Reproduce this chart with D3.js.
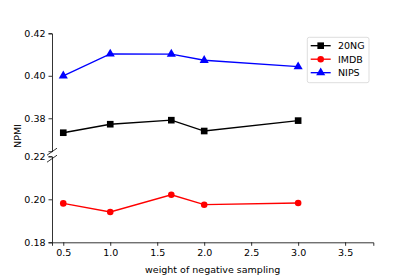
<!DOCTYPE html>
<html>
<head>
<meta charset="utf-8">
<script src="https://cdn.jsdelivr.net/npm/d3@7"></script>
<style>
  body { margin: 0; background: #fff; }
  svg { display: block; font-family: "DejaVu Sans", sans-serif; }
</style>
</head>
<body>
<svg id="chart" width="415" height="277"></svg>
<script>
// chart data
var weights = [0.5, 1.0, 1.65, 2.0, 3.0];
var ng20 = [0.3732, 0.3772, 0.3791, 0.3740, 0.3789];
var imdb = [0.1981, 0.1941, 0.2021, 0.1975, 0.1983];
var nips = [0.4000, 0.4103, 0.4102, 0.4073, 0.4043];
var xTicks = [0.5, 1.0, 1.5, 2.0, 2.5, 3.0, 3.5];
var topTicks = [0.38, 0.40, 0.42];
var bottomTicks = [0.18, 0.20, 0.22];

(function (d3) {
  'use strict';
  var svg = d3.select('#chart');
  var left = 52, right = 373.3;
  var fontSize = 9.5;

  var x = d3.scaleLinear().domain([0.38, 3.8]).range([left, right]);
  var yTop = d3.scaleLinear().domain([0.3645, 0.42]).range([151.2, 33.3]);
  var yBottom = d3.scaleLinear().domain([0.18, 0.22]).range([242.3, 156.3]);

  var fmt = d3.format('.2f');

  // y axes (top and bottom panels)
  var drawYAxis = function (scale, ticks) {
    var g = svg.append('g').attr('transform', 'translate(' + left + ',0)')
      .call(d3.axisLeft(scale).tickValues(ticks).tickFormat(fmt).tickSizeOuter(0).tickSize(3.5).tickPadding(3));
    g.select('.domain').attr('stroke', '#000').attr('stroke-width', 0.8);
    g.selectAll('.tick line').attr('stroke', '#000').attr('stroke-width', 0.8);
    g.selectAll('.tick text').attr('font-size', fontSize).attr('fill', '#000')
      .attr('font-family', '"DejaVu Sans", sans-serif');
  };
  drawYAxis(yTop, topTicks);
  drawYAxis(yBottom, bottomTicks);

  // break marks
  var breaks = [yTop.range()[0] + 1, yTop.range()[0] + 8];
  svg.append('g').selectAll('line').data(breaks).enter().append('line')
    .attr('x1', left - 5).attr('x2', left + 5)
    .attr('y1', function (d) { return d + 3; })
    .attr('y2', function (d) { return d - 4; })
    .attr('stroke', '#000').attr('stroke-width', 0.8);

  // x axis
  var gx = svg.append('g').attr('transform', 'translate(0,' + yBottom.range()[0] + ')')
    .call(d3.axisBottom(x).tickValues(xTicks).tickFormat(d3.format('.1f')).tickSizeOuter(0).tickSize(3.5).tickPadding(3));
  gx.select('.domain').attr('stroke', '#000').attr('stroke-width', 0.8);
  gx.selectAll('.tick line').attr('stroke', '#000').attr('stroke-width', 0.8);
  gx.selectAll('.tick text').attr('font-size', fontSize).attr('fill', '#000')
    .attr('font-family', '"DejaVu Sans", sans-serif');

  // axis labels
  svg.append('text').attr('x', (left + right) / 2).attr('y', 273)
    .attr('text-anchor', 'middle').attr('font-size', fontSize).text('weight of negative sampling');
  svg.append('text').attr('transform', 'translate(21,136) rotate(-90)')
    .attr('text-anchor', 'middle').attr('font-size', fontSize).text('NPMI');

  var series = [
    { name: '20NG', values: ng20, color: '#000000', marker: d3.symbolSquare, size: 44, y: yTop },
    { name: 'IMDB', values: imdb, color: '#ff0000', marker: d3.symbolCircle, size: 34, y: yBottom },
    { name: 'NIPS', values: nips, color: '#0000ff', marker: d3.symbolTriangle, size: 36, y: yTop }
  ];

  series.forEach(function (s) {
    var pts = weights.map(function (w, i) { return [w, s.values[i]]; });
    var line = d3.line().x(function (d) { return x(d[0]); }).y(function (d) { return s.y(d[1]); });
    svg.append('path').datum(pts).attr('d', line)
      .attr('fill', 'none').attr('stroke', s.color).attr('stroke-width', 1.35);
    svg.append('g').selectAll('path').data(pts).enter().append('path')
      .attr('d', d3.symbol().type(s.marker).size(s.size))
      .attr('transform', function (d) { return 'translate(' + x(d[0]) + ',' + s.y(d[1]) + ')'; })
      .attr('fill', s.color);
  });

  // legend
  var legend = svg.append('g').attr('transform', 'translate(307.3,37.3)');
  legend.append('rect').attr('width', 61.7).attr('height', 45.4).attr('rx', 2)
    .attr('fill', '#fff').attr('fill-opacity', 0.8).attr('stroke', '#d4d4d4').attr('stroke-width', 0.8);
  var rows = legend.selectAll('g.row').data(series).enter().append('g')
    .attr('transform', function (d, i) { return 'translate(0,' + (8.4 + i * 13.5) + ')'; });
  rows.append('line').attr('x1', 3.4).attr('x2', 23.4)
    .attr('stroke', function (d) { return d.color; }).attr('stroke-width', 1.35);
  rows.append('path').attr('transform', 'translate(13.4,0)')
    .attr('d', function (d) { return d3.symbol().type(d.marker).size(d.size)(); })
    .attr('fill', function (d) { return d.color; });
  rows.append('text').attr('x', 30.7).attr('y', 3.4).attr('font-size', fontSize)
    .text(function (d) { return d.name; });
})(d3);
</script>
</body>
</html>
